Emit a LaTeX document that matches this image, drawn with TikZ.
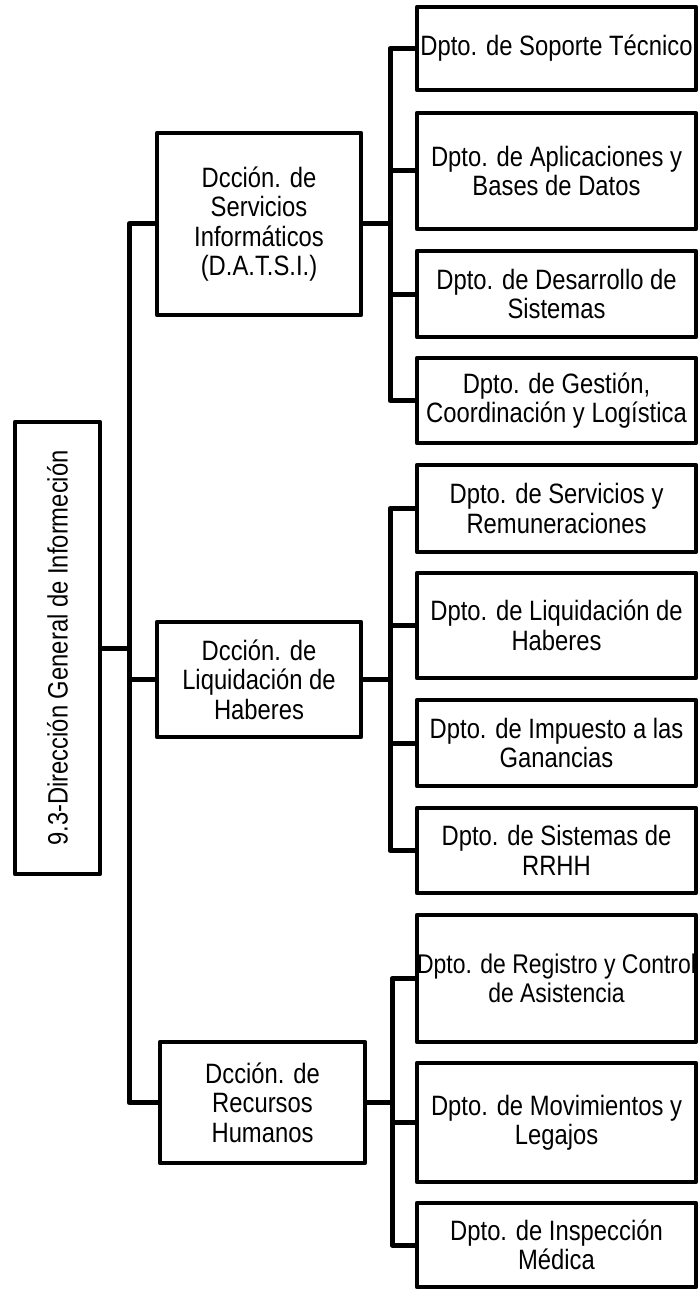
\documentclass[tikz,border=0pt]{standalone}
\usepackage{fontspec}
\setmainfont{Liberation Sans}[FakeStretch=0.85]
\begin{document}
\begin{tikzpicture}[x=1pt,y=-1pt,
  box/.style={draw=black, line width=4.5pt, line join=round, inner sep=0pt,
    align=center, font=\fontsize{28}{29.5}\selectfont},
  dept/.style={box, minimum width=279pt},
  dcc/.style={box, minimum width=204pt},
  conn/.style={draw=black, line width=5pt, line join=round, line cap=round}]
\useasboundingbox (0,0) rectangle (698,1289);

% root
\node[box, minimum width=85pt, minimum height=452pt] (root) at (57.5,648) {};
\node[rotate=90, inner sep=0pt, font=\fontsize{28}{29.5}\selectfont] (rootlabel) at (root.center) {9.3-Dirección General de Informeción};

% direcciones
\node[dcc, minimum height=182pt] (datsi) at (259,224) {Dcción. de\\Servicios\\Informáticos\\(D.A.T.S.I.)};
\node[dcc, minimum height=115pt] (liq) at (259,679.5) {Dcción. de\\Liquidación de\\Haberes};
\node[dcc, minimum width=205pt, minimum height=121pt] (rrhh) at (262.5,1102.5) {Dcción. de\\Recursos\\Humanos};

% departamentos
\node[dept, minimum height=83pt] (d1) at (556.5,48.5) {Dpto. de Soporte Técnico};
\node[dept, minimum height=116pt] (d2) at (556.5,171) {Dpto. de Aplicaciones y\\Bases de Datos};
\node[dept, minimum height=86pt] (d3) at (556.5,294) {Dpto. de Desarrollo de\\Sistemas};
\node[dept, minimum height=85pt] (d4) at (556.5,400.5) {Dpto. de Gestión,\\Coordinación y Logística};
\node[dept, minimum height=87pt] (d5) at (556.5,508.5) {Dpto. de Servicios y\\Remuneraciones};
\node[dept, minimum height=105pt] (d6) at (556.5,625.5) {Dpto. de Liquidación de\\Haberes};
\node[dept, minimum height=86pt] (d7) at (556.5,743) {Dpto. de Impuesto a las\\Ganancias};
\node[dept, minimum height=85pt] (d8) at (556.5,850.5) {Dpto. de Sistemas de\\RRHH};
\node[dept, minimum height=127pt, font=\fontsize{27}{29.5}\selectfont] (d9) at (556.5,978.5) {Dpto. de Registro y Control\\de Asistencia};
\node[dept, minimum height=119pt] (d10) at (556.5,1122.5) {Dpto. de Movimientos y\\Legajos};
\node[dept, minimum height=84pt] (d11) at (556.5,1245) {Dpto. de Inspección\\Médica};

% buses
\coordinate (busA) at (129,648);
\coordinate (busB) at (390,224);
\coordinate (busC) at (390,679.5);
\coordinate (busD) at (392,1102.5);

\draw[conn] (root.east) -- (busA);
\draw[conn] (datsi.west) -| (busA) |- (rrhh.west);
\draw[conn] (liq.west) -| (busA);

\draw[conn] (datsi.east) -- (busB);
\draw[conn] (d1.west) -| (busB) |- (d4.west);
\draw[conn] (d2.west) -| (busB);
\draw[conn] (d3.west) -| (busB);

\draw[conn] (liq.east) -- (busC);
\draw[conn] (d5.west) -| (busC) |- (d8.west);
\draw[conn] (d6.west) -| (busC);
\draw[conn] (d7.west) -| (busC);

\draw[conn] (rrhh.east) -- (busD);
\draw[conn] (d9.west) -| (busD) |- (d11.west);
\draw[conn] (d10.west) -| (busD);
\end{tikzpicture}
\end{document}
